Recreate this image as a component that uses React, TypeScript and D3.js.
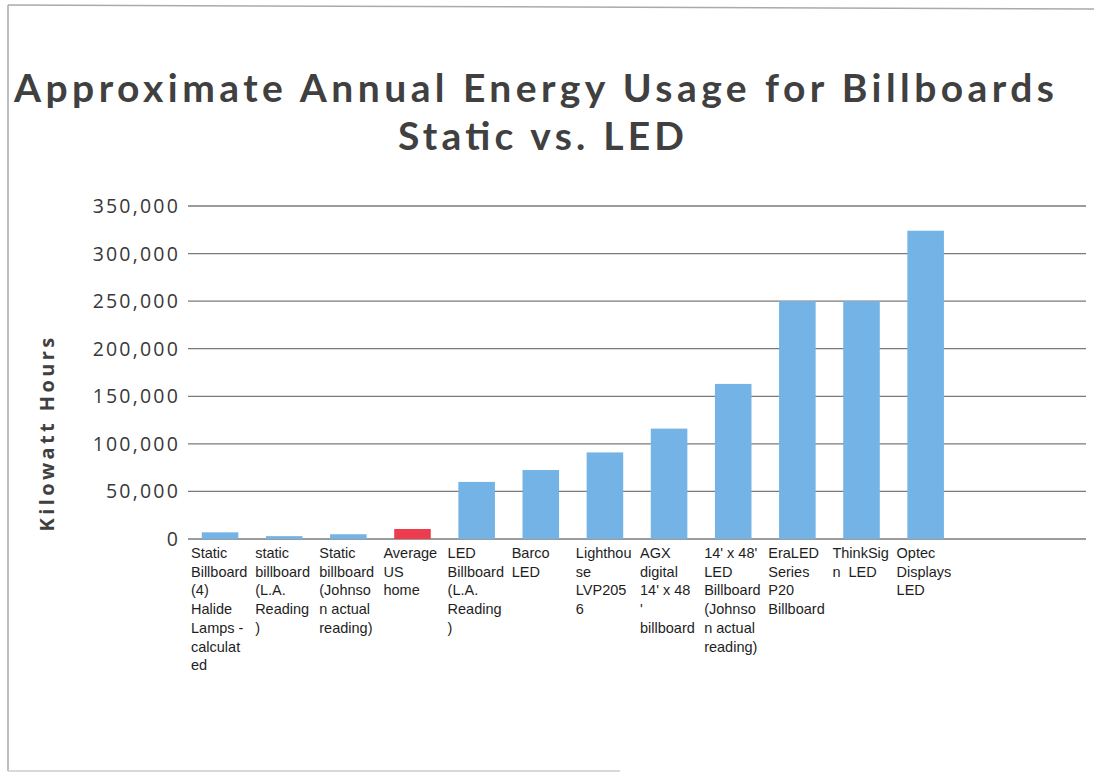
import * as d3 from 'd3';

// chart data
const categories: string[][] = [
  ['Static', 'Billboard', '(4)', 'Halide', 'Lamps -', 'calculat', 'ed'],
  ['static', 'billboard', '(L.A.', 'Reading', ')'],
  ['Static', 'billboard', '(Johnso', 'n actual', 'reading)'],
  ['Average', 'US', 'home'],
  ['LED', 'Billboard', '(L.A.', 'Reading', ')'],
  ['Barco', 'LED'],
  ['Lighthou', 'se', 'LVP205', '6'],
  ['AGX', 'digital', "14' x 48", "'", 'billboard'],
  ["14' x 48'", 'LED', 'Billboard', '(Johnso', 'n actual', 'reading)'],
  ['EraLED', 'Series', 'P20', 'Billboard'],
  ['ThinkSig', 'n  LED'],
  ['Optec', 'Displays', 'LED'],
];
const values = [7000, 3000, 5000, 10500, 60000, 72500, 91000, 116000, 163000, 250000, 250000, 324000];
const highlighted = [false, false, false, true, false, false, false, false, false, false, false, false];
const emptySlots = 2; // the sheet has two blank rows after Optec
const yTicks = [0, 50000, 100000, 150000, 200000, 250000, 300000, 350000];
const titleLines = ['Approximate Annual Energy Usage for Billboards', 'Static vs. LED'];
const yTitle = 'Kilowatt Hours';

const W = 1094;
const H = 772;
const plot = { left: 188, right: 1086, top: 206, bottom: 539 };

const App = () => {
  const keys = d3.range(categories.length + emptySlots).map(String);
  const x = d3.scaleBand<string>()
    .domain(keys)
    .range([plot.left, plot.right])
    .paddingInner(0.43)
    .paddingOuter(0.215);
  const y = d3.scaleLinear().domain([0, 350000]).range([plot.bottom, plot.top]);
  const fmt = d3.format(',');
  const step = x.step();

  return (
    <svg width={W} height={H} style={{ position: 'absolute', left: 0, top: 0, background: '#fff' }}>
      {/* page frame from the scan */}
      <line x1={8} y1={5} x2={W} y2={9} stroke="#aaa" strokeWidth={1.5} />
      <line x1={8} y1={5} x2={8} y2={771} stroke="#aaa" strokeWidth={1.5} />
      <line x1={8} y1={771} x2={620} y2={771} stroke="#ccc" strokeWidth={1.5} />

      {/* title */}
      <text x={534} y={102} textAnchor="middle" fontFamily="Lato" fontWeight="bold" fontSize={39}
        fill="#404040" textLength={1040} lengthAdjust="spacing">{titleLines[0]}</text>
      <text x={541} y={150} textAnchor="middle" fontFamily="Lato" fontWeight="bold" fontSize={39}
        fill="#404040" textLength={286} lengthAdjust="spacing">{titleLines[1]}</text>

      {/* gridlines + y ticks */}
      {yTicks.map(t => (
        <g key={t}>
          <line x1={plot.left} x2={plot.right} y1={y(t)} y2={y(t)} stroke="#7a7a7a" strokeWidth={1.3} />
          <text x={180} y={y(t)} dy="0.36em" textAnchor="end" fontFamily="Open Sans" fontSize={19.5}
            letterSpacing={2.2} fill="#383838">{fmt(t)}</text>
        </g>
      ))}

      <text transform={`translate(47,433) rotate(-90)`} textAnchor="middle" dy="0.36em" fontFamily="Open Sans"
        fontWeight="bold" fontSize={20} letterSpacing={3.4} fill="#404040">{yTitle}</text>

      {/* bars */}
      {values.map((v, i) => (
        <rect key={i} x={x(String(i))} width={x.bandwidth()} y={y(v)} height={y(0) - y(v)}
          fill={highlighted[i] ? '#ec3c4e' : '#74b3e6'} />
      ))}

      {/* category labels */}
      {categories.map((lines, i) => (
        <text key={i} fontFamily="Liberation Sans, Arial" fontSize={14.5} fill="#1e1e1e" style={{ whiteSpace: 'pre' }}>
          {lines.map((ln, j) => (
            <tspan key={j} x={(x(String(i)) as number) - (step - x.bandwidth()) / 2 + 3} y={558 + j * 18.7}>{ln}</tspan>
          ))}
        </text>
      ))}
    </svg>
  );
};

export default App;
